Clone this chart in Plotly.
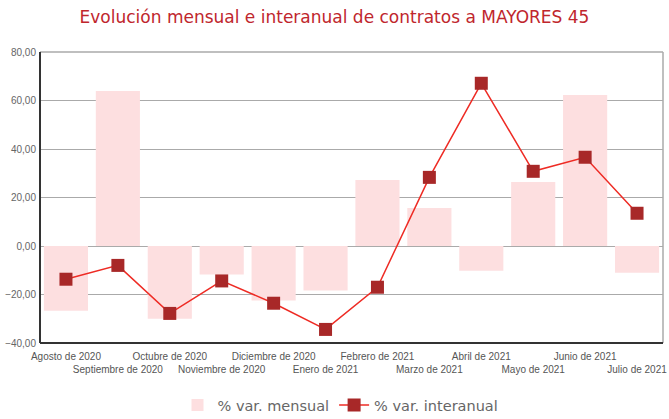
import plotly.graph_objects as go

categories = ["Agosto de 2020", "Septiembre de 2020", "Octubre de 2020", "Noviembre de 2020",
              "Diciembre de 2020", "Enero de 2021", "Febrero de 2021", "Marzo de 2021",
              "Abril de 2021", "Mayo de 2021", "Junio de 2021", "Julio de 2021"]
var_mensual = [-26.7, 63.9, -30.0, -11.8, -22.5, -18.4, 27.2, 15.7, -10.2, 26.4, 62.3, -11.0]
var_interanual = [-13.7, -8.0, -27.8, -14.4, -23.6, -34.4, -17.0, 28.3, 67.1, 30.8, 36.6, 13.5]
y_ticks = [-40, -20, 0, 20, 40, 60, 80]

tick_text = [c if i % 2 == 0 else "<br>" + c for i, c in enumerate(categories)]

fig = go.Figure()
fig.add_trace(go.Bar(
    x=categories, y=var_mensual, name="% var. mensual",
    marker=dict(color="#fddfe0", line=dict(width=0)),
))
fig.add_trace(go.Scatter(
    x=categories, y=var_interanual, name="% var. interanual", mode="lines+markers",
    line=dict(color="#ee2b24", width=1.5),
    marker=dict(symbol="square", size=13, color="#a82828"),
))

font_fam = "Liberation Sans Narrow, Liberation Sans, Arial, sans-serif"
fig.update_layout(
    width=669, height=419,
    margin=dict(l=40, r=6, t=52, b=76, autoexpand=False),
    plot_bgcolor="white", paper_bgcolor="white",
    separators=",.",
    bargap=0.15,
    title=dict(text="Evolución mensual e interanual de contratos a MAYORES 45",
               x=0.5, xanchor="center", xref="container", y=1 - 17 / 419, yanchor="middle", yref="container",
               font=dict(family="DejaVu Sans, Verdana, sans-serif", size=17, color="#c0262d")),
    legend=dict(orientation="h", x=0.5 + 6 / 669, xanchor="center", xref="container",
                y=14 / 419, yanchor="middle", yref="container",
                font=dict(family="DejaVu Sans, Verdana, sans-serif", size=14.5, color="#666666"),
                traceorder="normal", itemwidth=30),
    showlegend=True,
)
fig.update_xaxes(
    range=[-0.5, len(categories) - 0.5],
    tickmode="array", tickvals=categories, ticktext=tick_text, tickangle=0,
    tickfont=dict(family=font_fam, size=10, color="#555555"),
    showgrid=False, showline=False, ticks="", ticklabelstandoff=6, automargin=False,
)
fig.update_yaxes(
    range=[-40, 80], tickvals=y_ticks, tickformat=".2f",
    tickfont=dict(family=font_fam, size=10, color="#666666"),
    showgrid=True, gridcolor="#aaaaaa", gridwidth=1, zeroline=False,
    showline=False, ticks="", ticklabelstandoff=3, automargin=False,
)
# frame
fig.add_shape(type="line", xref="paper", yref="paper", x0=0, x1=1, y0=1, y1=1,
              line=dict(color="#aaaaaa", width=1.5))
fig.add_shape(type="line", xref="paper", yref="paper", x0=1, x1=1, y0=0, y1=1,
              line=dict(color="#aaaaaa", width=1.5))
fig.add_shape(type="line", xref="paper", yref="paper", x0=0, x1=0, y0=0, y1=1,
              line=dict(color="#333333", width=2))
fig.add_shape(type="line", xref="paper", yref="paper", x0=0, x1=1, y0=0, y1=0,
              line=dict(color="#333333", width=2))

fig.write_html("out.html", config={"displayModeBar": False},
               post_script="document.body.style.margin='0';document.body.style.padding='0';")
